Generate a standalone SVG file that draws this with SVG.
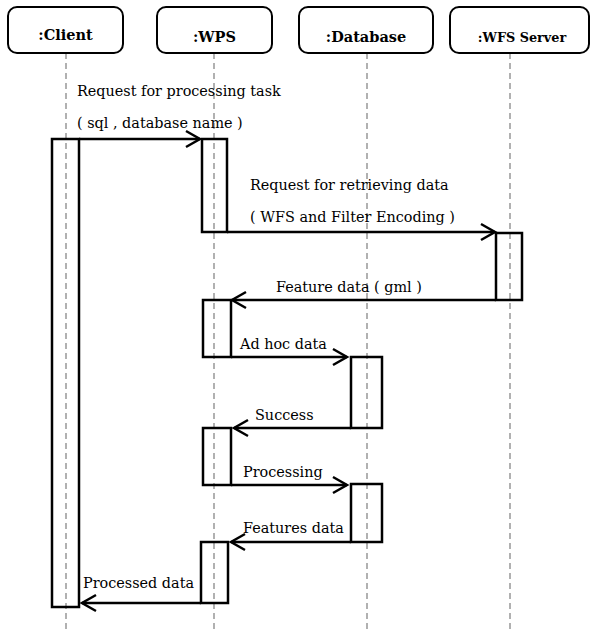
<svg xmlns="http://www.w3.org/2000/svg" width="591" height="630" viewBox="0 0 591 630">
<style>
.box{fill:#fff;stroke:#000;stroke-width:2}
.hd{font-family:'DejaVu Serif',serif;font-weight:bold;font-size:14.5px;text-anchor:middle}
.life{stroke:#888;stroke-width:1.3;stroke-dasharray:6 4;fill:none}
.act{fill:none;stroke:#000;stroke-width:2.5}
.msg{stroke:#000;stroke-width:2.5;fill:none}
.lbl{font-family:'DejaVu Serif',serif;font-size:14.4px;fill:#000}
</style>
<defs>
<marker id="ah" markerUnits="userSpaceOnUse" markerWidth="20" markerHeight="20" viewBox="-16 -10 20 20" refX="0" refY="0" orient="auto">
<path d="M-14,-8 L0,0 L-14,8" fill="none" stroke="#000" stroke-width="2.5"/>
</marker>
</defs>
<rect width="591" height="630" fill="#fff"/>
<g id="lifelines">
<line class="life" x1="66" y1="53" x2="66" y2="630"/>
<line class="life" x1="214" y1="53" x2="214" y2="630"/>
<line class="life" x1="367" y1="53" x2="367" y2="630"/>
<line class="life" x1="510" y1="53" x2="510" y2="630"/>
</g>
<g id="client"><rect class="box" x="8" y="7" width="115" height="46" rx="9"/><text class="hd" x="65.5" y="40">:Client</text></g>
<g id="wps"><rect class="box" x="157" y="7" width="115" height="46" rx="9"/><text class="hd" x="214.5" y="42">:WPS</text></g>
<g id="database"><rect class="box" x="299" y="7" width="134" height="46" rx="9"/><text class="hd" x="366" y="42">:Database</text></g>
<g id="wfs"><rect class="box" x="450" y="7" width="139" height="46" rx="9"/><text class="hd" x="522" y="42" style="font-size:12.8px">:WFS Server</text></g>
<g id="activations">
<rect class="act" x="52" y="139" width="27" height="468"/>
<rect class="act" x="202" y="139" width="25" height="93"/>
<rect class="act" x="496" y="233" width="26" height="67"/>
<rect class="act" x="203" y="300" width="28" height="57"/>
<rect class="act" x="351" y="357" width="31" height="71"/>
<rect class="act" x="203" y="428" width="28" height="57"/>
<rect class="act" x="351" y="484" width="31" height="58"/>
<rect class="act" x="201" y="542" width="27" height="61"/>
</g>
<g id="connectors">
<line class="msg" x1="79" y1="139" x2="200" y2="139" marker-end="url(#ah)"/>
<line class="msg" x1="227" y1="232" x2="495" y2="232" marker-end="url(#ah)"/>
<line class="msg" x1="496" y1="300" x2="232" y2="300" marker-end="url(#ah)"/>
<line class="msg" x1="231" y1="357" x2="347" y2="357" marker-end="url(#ah)"/>
<line class="msg" x1="351" y1="428" x2="234" y2="428" marker-end="url(#ah)"/>
<line class="msg" x1="231" y1="485" x2="347" y2="485" marker-end="url(#ah)"/>
<line class="msg" x1="351" y1="542" x2="231" y2="542" marker-end="url(#ah)"/>
<line class="msg" x1="201" y1="603" x2="82" y2="603" marker-end="url(#ah)"/>
</g>
<g id="labels">
<text class="lbl" x="77" y="96">Request for processing task</text>
<text class="lbl" x="77" y="128">( sql , database name )</text>
<text class="lbl" x="250" y="190">Request for retrieving data</text>
<text class="lbl" x="250" y="222">( WFS and Filter Encoding )</text>
<text class="lbl" x="276" y="292">Feature data ( gml )</text>
<text class="lbl" x="240" y="349">Ad hoc data</text>
<text class="lbl" x="255" y="420">Success</text>
<text class="lbl" x="243" y="477">Processing</text>
<text class="lbl" x="243" y="533">Features data</text>
<text class="lbl" x="83" y="588">Processed data</text>
</g>
</svg>
